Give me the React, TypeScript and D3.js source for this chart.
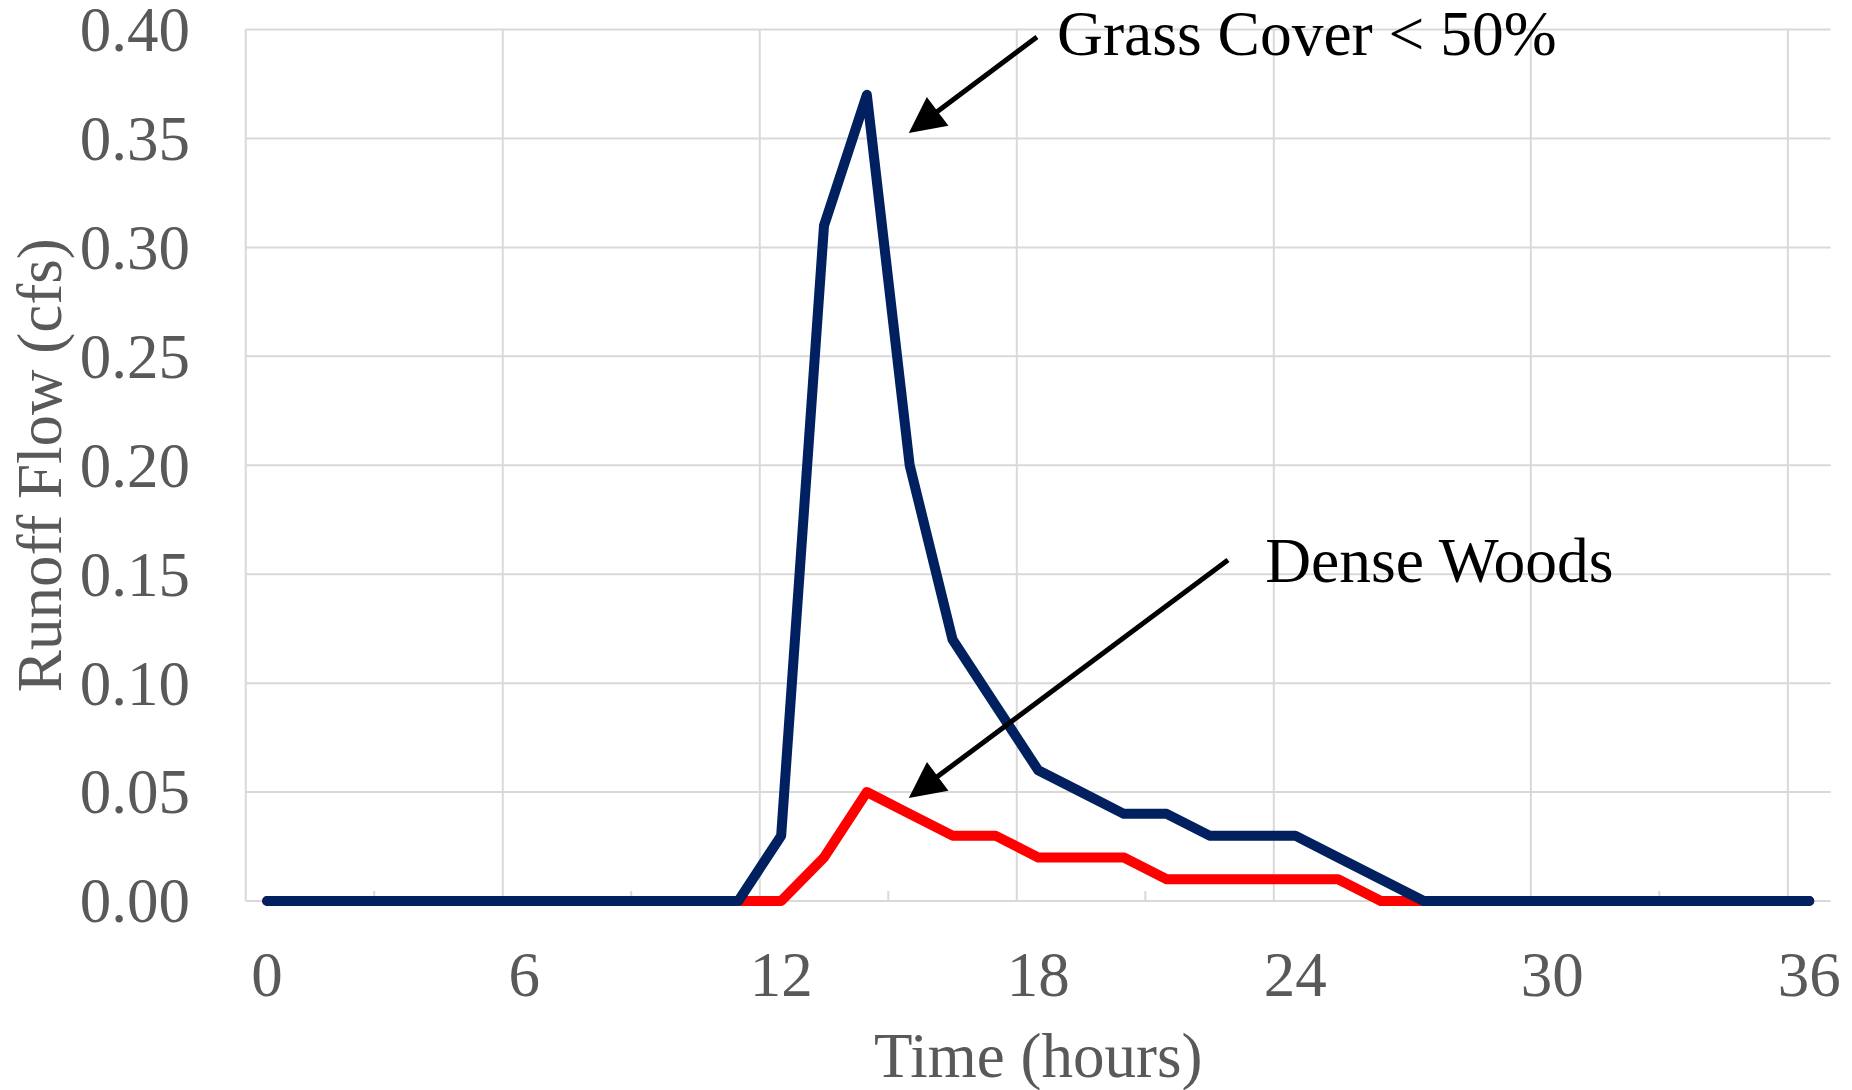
import React from "react";
import * as d3 from "d3";

const hours = [0,1,2,3,4,5,6,7,8,9,10,11,12,13,14,15,16,17,18,19,20,21,22,23,24,25,26,27,28,29,30,31,32,33,34,35,36];
const grassCover = [0,0,0,0,0,0,0,0,0,0,0,0,0.03,0.31,0.37,0.20,0.12,0.09,0.06,0.05,0.04,0.04,0.03,0.03,0.03,0.02,0.01,0,0,0,0,0,0,0,0,0,0];
const denseWoods = [0,0,0,0,0,0,0,0,0,0,0,0,0,0.02,0.05,0.04,0.03,0.03,0.02,0.02,0.02,0.01,0.01,0.01,0.01,0.01,0,0,0,0,0,0,0,0,0,0,0];
const yTicks = [0,0.05,0.10,0.15,0.20,0.25,0.30,0.35,0.40];
const xLabelHours = [0,6,12,18,24,30,36];
const minorTickHours = [3,9,15,21,27,33];

// annotations in data space: [hour, value]
const annotations = [
  { text: "Grass Cover < 50%", tail: [17.97, 0.3966], tip: [14.98, 0.3525], label: [18.44, 0.3883] },
  { text: "Dense Woods", tail: [22.43, 0.1565], tip: [14.98, 0.0473], label: [23.3, 0.1464] },
];

const W = 1852, H = 1090;
const M = { left: 245.7, right: 1830.7, top: 29.5, bottom: 901 };
const FONT = "'Liberation Serif', 'Times New Roman', serif";
const GRID = "#d9d9d9";
const TEXT = "#595959";

export default function App() {
  const x = d3.scaleBand<number>().domain(hours).range([M.left, M.right]).paddingInner(0).paddingOuter(0);
  const bw = x.bandwidth();
  const cx = (h: number) => (x(h) as number) + bw / 2;
  const xl = d3.scaleLinear().domain([-0.5, hours.length - 0.5]).range([M.left, M.right]);
  const y = d3.scaleLinear().domain([0, 0.4]).range([M.bottom, M.top]);

  const line = d3.line<number>().x((_, i) => cx(hours[i])).y((d) => y(d));

  const arrowHead = (tip: number[], tail: number[]) => {
    const tx = xl(tip[0]), ty = y(tip[1]);
    const sx = xl(tail[0]), sy = y(tail[1]);
    const dx = sx - tx, dy = sy - ty;
    const len = Math.hypot(dx, dy);
    const ux = dx / len, uy = dy / len;
    const L = 36, hw = 18;
    const bx = tx + ux * L, by = ty + uy * L;
    const px = -uy, py = ux;
    return {
      head: `M${tx},${ty}L${bx + px * hw},${by + py * hw}L${bx - px * hw},${by - py * hw}Z`,
      line: { x1: sx, y1: sy, x2: bx - ux * 4, y2: by - uy * 4 },
    };
  };

  return (
    <div style={{ position: "fixed", left: 0, top: 0 }}>
      <svg width={W} height={H} style={{ display: "block", background: "#fff" }} fontFamily={FONT}>
        {yTicks.map((t) => (
          <line key={"hg" + t} x1={M.left} x2={M.right} y1={y(t)} y2={y(t)} stroke={GRID} strokeWidth={2} />
        ))}
        {xLabelHours.map((h) => (
          <line key={"vg" + h} x1={x(h) as number} x2={x(h) as number} y1={M.top} y2={M.bottom} stroke={GRID} strokeWidth={2} />
        ))}
        {minorTickHours.map((h) => (
          <line key={"mt" + h} x1={x(h) as number} x2={x(h) as number} y1={M.bottom} y2={M.bottom - 10} stroke={GRID} strokeWidth={2} />
        ))}
        {yTicks.map((t) => (
          <text key={"yl" + t} x={190} y={y(t)} dy="0.34em" textAnchor="end" fontSize={63} fill={TEXT}>
            {d3.format(".2f")(t)}
          </text>
        ))}
        {xLabelHours.map((h) => (
          <text key={"xl" + h} x={cx(h)} y={996} textAnchor="middle" fontSize={63} fill={TEXT}>
            {h}
          </text>
        ))}
        <text x={(M.left + M.right) / 2} y={1077} textAnchor="middle" fontSize={63} fill={TEXT}>
          Time (hours)
        </text>
        <text transform={`translate(61,${(M.top + M.bottom) / 2}) rotate(-90)`} textAnchor="middle" fontSize={63} fill={TEXT}>
          Runoff Flow (cfs)
        </text>
        <path d={line(denseWoods) || ""} fill="none" stroke="#ff0000" strokeWidth={10} strokeLinejoin="round" strokeLinecap="round" />
        <path d={line(grassCover) || ""} fill="none" stroke="#002060" strokeWidth={10} strokeLinejoin="round" strokeLinecap="round" />
        {annotations.map((a) => {
          const ah = arrowHead(a.tip, a.tail);
          return (
            <g key={a.text}>
              <line {...ah.line} stroke="#000" strokeWidth={5} />
              <path d={ah.head} fill="#000" />
              <text x={xl(a.label[0])} y={y(a.label[1])} fontSize={63.5} fill="#000">
                {a.text}
              </text>
            </g>
          );
        })}
      </svg>
    </div>
  );
}
